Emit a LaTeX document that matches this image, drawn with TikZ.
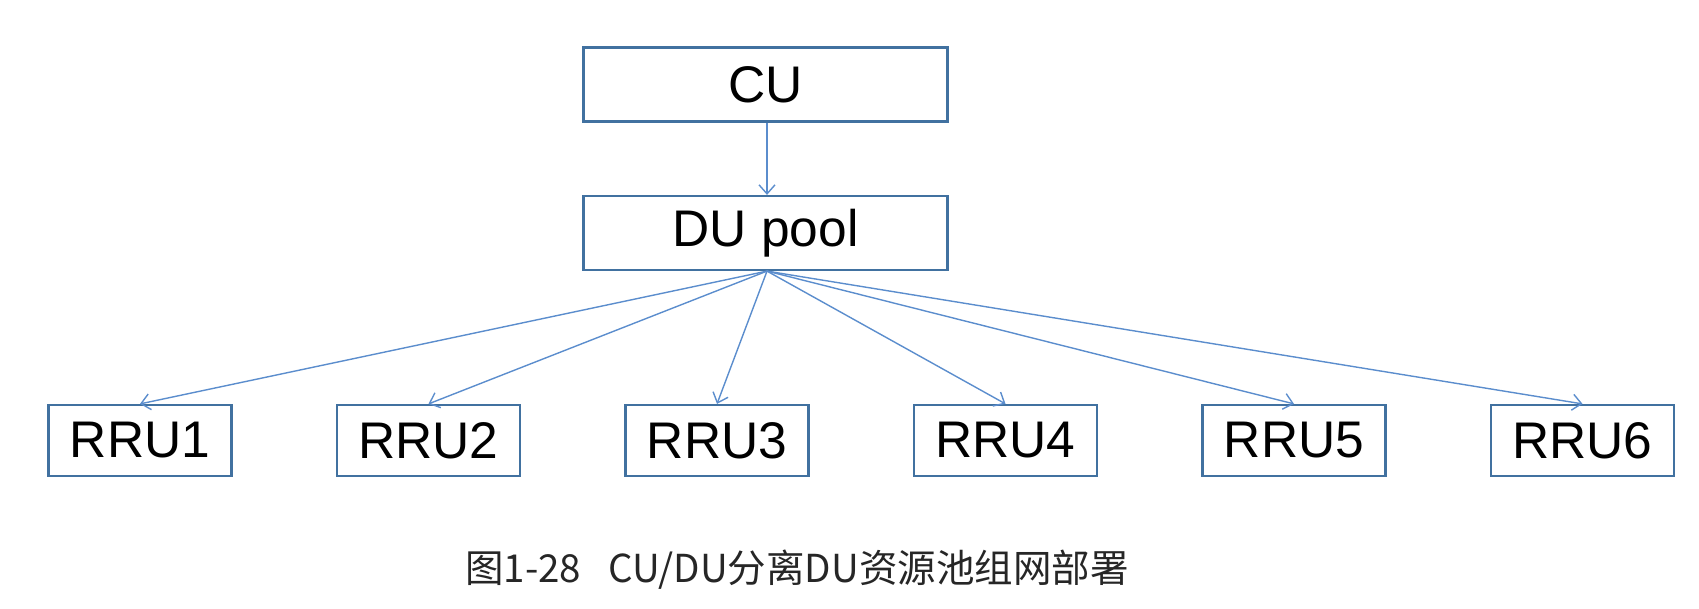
\documentclass[tikz,border=0pt]{standalone}
\usepackage{fontspec}
\setmainfont{Liberation Sans}
\newfontfamily\cjk{Noto Sans CJK SC}
\usetikzlibrary{arrows.meta}
\definecolor{boxblue}{RGB}{65,113,160}
\definecolor{arrblue}{RGB}{91,141,205}
\begin{document}
\begin{tikzpicture}[x=1pt,y=-1pt,
  unit/.style={draw=boxblue, line width=2.2pt, fill=white, inner sep=0pt,
    font=\fontsize{51.5}{60}\selectfont},
  top/.style={unit, minimum width=364pt, minimum height=74pt},
  rru/.style={unit, minimum width=183pt, minimum height=71pt},
  link/.style={draw=arrblue, line width=1.4pt, -{Straight Barb[length=9pt,width=16pt,line width=1.4pt]}}
]
\useasboundingbox (0,0) rectangle (1699,609);
\node[top] (cu) at (765.5,84.5) {CU};
\node[top] (du) at (765.5,233) {DU pool};
\node[rru] (r1) at (140,440.5) {RRU1};
\node[rru] (r2) at (428.5,440.5) {RRU2};
\node[rru] (r3) at (717,440.5) {RRU3};
\node[rru] (r4) at (1005.5,440.5) {RRU4};
\node[rru] (r5) at (1294,440.5) {RRU5};
\node[rru] (r6) at (1582.5,440.5) {RRU6};
\coordinate (hub) at ([xshift=1.5pt]du.south);
\draw[link] ([xshift=1.5pt]cu.south) -- ([xshift=1.5pt]du.north);
\foreach \r in {r1,r2,r3,r4,r5,r6}{
  \draw[link] (hub) -- (\r.north);
}
\node[anchor=base west, inner sep=0pt, font=\cjk\fontsize{38.5}{46}\selectfont, text=black!85] (cap) at (465,582) {图1-28\hspace{27pt}CU/DU分离DU资源池组网部署};
\end{tikzpicture}
\end{document}
